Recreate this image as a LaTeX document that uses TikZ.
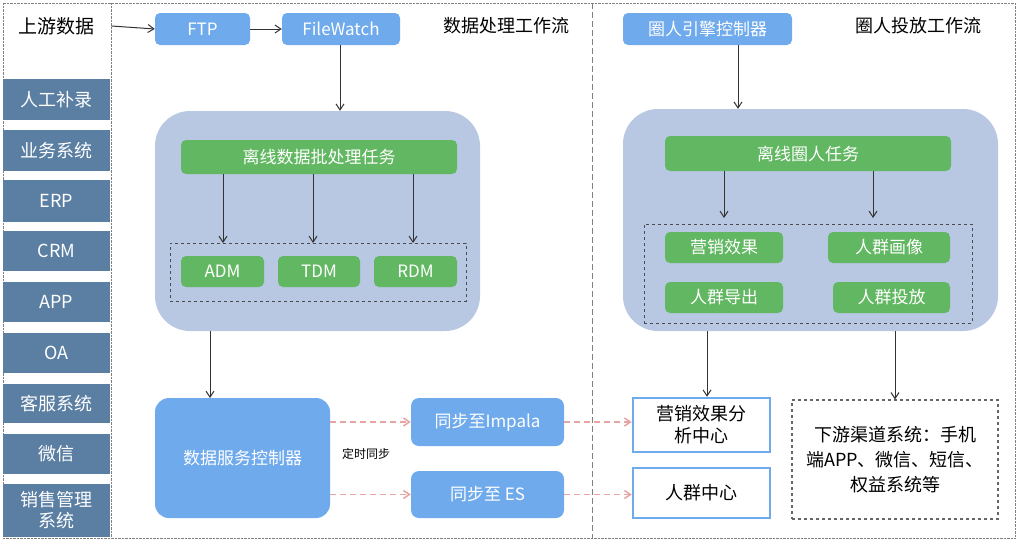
\documentclass[tikz,border=0pt]{standalone}
\usepackage{fontspec}
\setmainfont{Noto Sans CJK SC}
\usetikzlibrary{positioning,arrows.meta}
\definecolor{srcblue}{HTML}{5B7FA3}
\definecolor{boxblue}{HTML}{6FAAEC}
\definecolor{bgblue}{HTML}{B8C8E2}
\definecolor{taskgreen}{HTML}{62B862}
\definecolor{syncpink}{HTML}{E8A3A3}
\tikzset{
  src/.style={fill=srcblue,text=white,minimum width=107pt,font=\fontsize{18}{21}\selectfont,inner sep=0pt,align=center},
  ctl/.style={fill=boxblue,text=white,rounded corners=5pt,font=\fontsize{17}{20}\selectfont,inner sep=0pt},
  task/.style={fill=taskgreen,text=white,rounded corners=5pt,font=\fontsize{17}{20}\selectfont,inner sep=0pt},
  outbox/.style={draw=boxblue,line width=2.5pt,fill=white,font=\fontsize{18}{22}\selectfont,inner sep=0pt,align=center},
  arr/.style={-{Straight Barb[length=6pt,width=8pt]},draw=black!80,line width=1pt},
  sync/.style={-{Straight Barb[length=6pt,width=8pt]},draw=syncpink,dashed,line width=1.5pt,dash pattern=on 6pt off 4pt}
}
\begin{document}
\begin{tikzpicture}[x=1pt,y=-1pt]
\useasboundingbox (0,0) rectangle (1020,552);
% frames
\draw[gray,densely dotted] (3,3) rectangle (1015,538);
\draw[gray,densely dotted] (111,3) -- (111,538);
\draw[gray,dash pattern=on 6pt off 3pt] (592,3) -- (592,538);
% sources
\node[font=\fontsize{19}{22}\selectfont] (up) at (56,26) {上游数据};
\node[src,minimum height=41pt] (s1) at (56.5,99.5) {人工补录};
\node[src,minimum height=41pt] (s2) at (56.5,150.5) {业务系统};
\node[src,minimum height=42pt] (s3) at (56.5,201) {ERP};
\node[src,minimum height=40pt] (s4) at (56.5,251) {CRM};
\node[src,minimum height=40pt] (s5) at (56.5,302) {APP};
\node[src,minimum height=40pt] (s6) at (56.5,353) {OA};
\node[src,minimum height=39pt] (s7) at (56.5,403.5) {客服系统};
\node[src,minimum height=40pt] (s8) at (56.5,454) {微信};
\node[src,minimum height=53pt] (s9) at (56.5,510.5) {销售管理\\系统};
% data workflow
\node[font=\fontsize{18}{21}\selectfont] (wf1) at (506,26) {数据处理工作流};
\node[ctl,minimum width=95pt,minimum height=32pt] (ftp) at (202.5,29) {FTP};
\node[ctl,minimum width=118pt,minimum height=32pt] (fw) at (341,29) {FileWatch};
\draw[arr] (up.east) ++(14,0) coordinate (upr) -- (ftp.west);
\draw[arr] (ftp) -- (fw);
\node[fill=bgblue,rounded corners=35pt,minimum width=325pt,minimum height=220pt] (bg1) at (317.5,221) {};
\node[task,minimum width=276pt,minimum height=34pt] (batch) at (319,157) {离线数据批处理任务};
\node[draw=black!70,dashed,line width=1pt,minimum width=296pt,minimum height=58pt] (dm) at (318,272) {};
\node[task,minimum width=83pt,minimum height=31pt] (adm) at (222.5,271.5) {ADM};
\node[task,minimum width=82pt,minimum height=31pt] (tdm) at (319,271.5) {TDM};
\node[task,minimum width=83pt,minimum height=31pt] (rdm) at (415.5,271.5) {RDM};
\draw[arr] (fw.south -| 340,0) -- (bg1.north -| 340,0);
\foreach \x in {223,313,413} \draw[arr] (\x,174) -- (\x,243);
\node[ctl,rounded corners=14pt,minimum width=175pt,minimum height=120pt] (dsc) at (242.5,458) {数据服务控制器};
\draw[arr] (210,331) -- (210,398);
\node[ctl,rounded corners=8pt,minimum width=153pt,minimum height=48pt] (imp) at (487.5,422) {同步至Impala};
\node[ctl,rounded corners=8pt,minimum width=153pt,minimum height=47pt] (es) at (487.5,494.5) {同步至 ES};
\node[font=\fontsize{12}{14}\selectfont] (tm) at (366,454) {定时同步};
% crowd workflow
\node[font=\fontsize{18}{21}\selectfont] (wf2) at (918,26) {圈人投放工作流};
\node[ctl,minimum width=169pt,minimum height=32pt] (qr) at (707.5,29) {圈人引擎控制器};
\node[fill=bgblue,rounded corners=35pt,minimum width=375pt,minimum height=222pt] (bg2) at (810.5,220) {};
\node[task,minimum width=286pt,minimum height=35pt] (crowd) at (808,153.5) {离线圈人任务};
\node[draw=black!70,dashed,line width=1pt,minimum width=328pt,minimum height=99pt] (cr) at (808,273.5) {};
\node[task,minimum width=118pt,minimum height=31pt] (yx) at (724,247.5) {营销效果};
\node[task,minimum width=122pt,minimum height=31pt] (hx) at (889,247.5) {人群画像};
\node[task,minimum width=118pt,minimum height=31pt] (dc) at (724,297.5) {人群导出};
\node[task,minimum width=117pt,minimum height=31pt] (tf) at (891.5,297.5) {人群投放};
\draw[arr] (qr.south -| 738,0) -- (bg2.north -| 738,0);
\foreach \x in {724,873} \draw[arr] (\x,171) -- (\x,218);
\node[outbox,minimum width=137pt,minimum height=54pt] (yxc) at (701.5,425) {营销效果分\\析中心};
\node[outbox,minimum width=137pt,minimum height=50pt] (rqc) at (701.5,493) {人群中心};
\node[draw=black!60,dashed,line width=1.2pt,minimum width=206pt,minimum height=119pt,align=center,font=\fontsize{18}{25}\selectfont,inner sep=0pt] (down) at (895,459.5) {下游渠道系统：手机\\端APP、微信、短信、\\权益系统等};
\draw[arr] (707,331) -- (yxc.north -| 707,0);
\draw[arr] (895,331) -- (down.north -| 895,0);
% sync
\draw[sync] (dsc.east |- imp) -- (imp.west);
\draw[sync] (dsc.east |- es) -- (es.west);
\draw[sync] (imp.east) -- (imp.east -| yxc.west);
\draw[sync] (es.east) -- (es.east -| rqc.west);
\end{tikzpicture}
\end{document}
